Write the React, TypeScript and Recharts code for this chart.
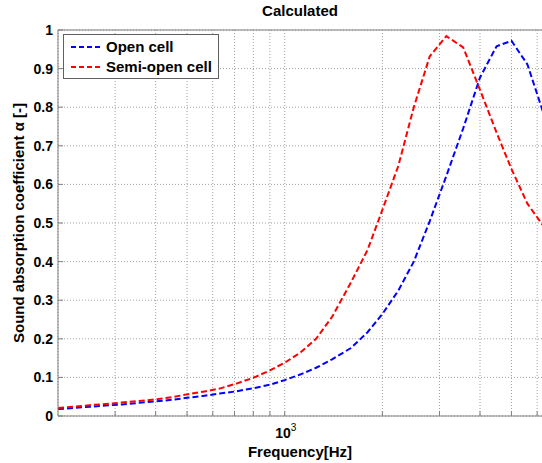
import React from "react";
import {
  LineChart,
  Line,
  XAxis,
  YAxis,
  CartesianGrid,
  Legend,
  ReferenceLine,
} from "recharts";

const frequencies = [
  200, 225, 250, 280, 315, 355, 400, 450, 500, 560, 630, 710, 800, 900, 1000,
  1120, 1250, 1400, 1600, 1800, 2000, 2240, 2500, 2800, 3150, 3550, 4000, 4500,
  5000, 5600, 6300,
];
const openCell = [
  0.018, 0.021, 0.024, 0.027, 0.03, 0.034, 0.038, 0.042, 0.047, 0.052, 0.058,
  0.064, 0.072, 0.081, 0.093, 0.108, 0.125, 0.147, 0.176, 0.217, 0.264, 0.325,
  0.4, 0.505, 0.622, 0.745, 0.877, 0.958, 0.972, 0.911, 0.78,
];
const semiOpenCell = [
  0.021, 0.024, 0.028, 0.031, 0.035, 0.039, 0.043, 0.049, 0.056, 0.063, 0.071,
  0.084, 0.099, 0.118, 0.138, 0.165, 0.2, 0.257, 0.346, 0.43, 0.534, 0.648,
  0.8, 0.932, 0.984, 0.955, 0.845, 0.734, 0.64, 0.55, 0.49,
];
const xGridTicks = [300, 400, 500, 600, 700, 800, 900, 1000, 2000, 3000, 4000, 5000, 6000];
const yTicks = [0, 0.1, 0.2, 0.3, 0.4, 0.5, 0.6, 0.7, 0.8, 0.9, 1];
const seriesNames = ["Open cell", "Semi-open cell"];
const seriesColors = ["#0000ff", "#ff0000"];

const data = frequencies.map((f, i) => ({
  f,
  open: openCell[i],
  semi: semiOpenCell[i],
}));

const FONT = '"Liberation Sans", Arial, Helvetica, sans-serif';
const AXIS_COLOR = "#808080";

const XTick = (props: any) => {
  const { x, y, payload } = props;
  return (
    <g>
      <line x1={x} x2={x} y1={y} y2={y - 5} stroke={AXIS_COLOR} strokeWidth={1} />
      {payload.value === 1000 && (
        <text
          x={x + 1}
          y={y + 22}
          textAnchor="middle"
          fontFamily={FONT}
          fontWeight="bold"
          fontSize={14}
          fill="#000"
        >
          <tspan>10</tspan>
          <tspan dy={-7} fontSize={10} fontWeight="normal">
            3
          </tspan>
        </text>
      )}
    </g>
  );
};

const YTick = (props: any) => {
  const { x, y, payload } = props;
  return (
    <g>
      <line x1={x} x2={x + 5} y1={y} y2={y} stroke={AXIS_COLOR} strokeWidth={1} />
      <text
        x={x - 5}
        y={y + 5}
        textAnchor="end"
        fontFamily={FONT}
        fontWeight="bold"
        fontSize={14}
        fill="#000"
      >
        {String(payload.value)}
      </text>
    </g>
  );
};

const LegendBox = () => (
  <svg width={157} height={46} style={{ display: "block" }}>
    <rect x={0.5} y={0.5} width={155} height={44} fill="#fff" stroke="#606060" strokeWidth={1} />
    {seriesNames.map((name, i) => (
      <g key={name}>
        <line
          x1={8}
          x2={38}
          y1={13 + i * 20}
          y2={13 + i * 20}
          stroke={seriesColors[i]}
          strokeWidth={2}
          strokeDasharray="5 3"
        />
        <text
          x={43}
          y={18 + i * 20}
          fontFamily={FONT}
          fontWeight="bold"
          fontSize={15}
          fill="#000"
        >
          {name}
        </text>
      </g>
    ))}
  </svg>
);

export default function App() {
  return (
    <div
      style={{
        position: "absolute",
        left: 0,
        top: 0,
        width: 542,
        height: 463,
        overflow: "hidden",
        background: "#fff",
      }}
    >
      <div
        style={{
          position: "absolute",
          left: 0,
          top: 2,
          width: 600,
          textAlign: "center",
          fontFamily: FONT,
          fontWeight: "bold",
          fontSize: 15,
          lineHeight: "18px",
        }}
      >
        Calculated
      </div>
      <div style={{ position: "absolute", left: 0, top: 0 }}>
        <LineChart
          width={560}
          height={463}
          data={data}
          margin={{ top: 30, right: 16, bottom: 0, left: 0 }}
        >
          <CartesianGrid stroke="#a0a0a0" strokeDasharray="1 2" />
          <XAxis
            dataKey="f"
            type="number"
            scale="log"
            domain={[200, 6300]}
            ticks={xGridTicks}
            allowDataOverflow
            height={47}
            tickSize={0}
            tickMargin={0}
            tickLine={false}
            tick={<XTick />}
            axisLine={{ stroke: AXIS_COLOR, strokeWidth: 1 }}
            interval={0}
            label={() => (
              <text
                x={300}
                y={457}
                textAnchor="middle"
                fontFamily={FONT}
                fontWeight="bold"
                fontSize={15}
                fill="#000"
              >
                Frequency[Hz]
              </text>
            )}
          />
          <YAxis
            type="number"
            domain={[0, 1]}
            ticks={yTicks}
            width={58}
            tickSize={0}
            tickMargin={0}
            tickLine={false}
            tick={<YTick />}
            axisLine={{ stroke: AXIS_COLOR, strokeWidth: 1 }}
            interval={0}
            label={() => (
              <text
                x={24}
                y={223}
                transform="rotate(-90, 24, 223)"
                textAnchor="middle"
                fontFamily={FONT}
                fontWeight="bold"
                fontSize={15}
                fill="#000"
              >
                Sound absorption coefficient α [-]
              </text>
            )}
          />
          <ReferenceLine y={1} stroke={AXIS_COLOR} strokeWidth={1} />
          <Line
            type="linear"
            dataKey="open"
            name={seriesNames[0]}
            stroke={seriesColors[0]}
            strokeWidth={2}
            strokeDasharray="6 3"
            dot={false}
            isAnimationActive={false}
          />
          <Line
            type="linear"
            dataKey="semi"
            name={seriesNames[1]}
            stroke={seriesColors[1]}
            strokeWidth={2}
            strokeDasharray="6 3"
            dot={false}
            isAnimationActive={false}
          />
          <Legend
            layout="vertical"
            align="center"
            verticalAlign="middle"
            content={<LegendBox />}
            wrapperStyle={{ position: "absolute", left: 63, top: 34, width: 157, height: 46 }}
          />
        </LineChart>
      </div>
    </div>
  );
}
